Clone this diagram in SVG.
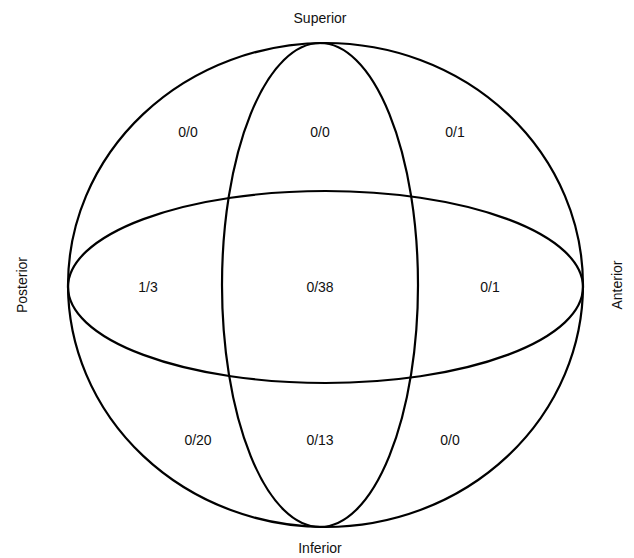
<svg xmlns="http://www.w3.org/2000/svg" width="634" height="558" viewBox="0 0 634 558">
<style>
.l{fill:none;stroke:#000;stroke-width:2.2}
text{font-family:"Liberation Sans",Arial,sans-serif;font-size:14px;fill:#111;text-anchor:middle;dominant-baseline:central}
</style>
<rect width="634" height="558" fill="#fff"/>
<g id="connectors">
<ellipse id="sphere" class="l" cx="325.5" cy="285" rx="257.5" ry="242"/>
<ellipse id="horizontal" class="l" cx="325.5" cy="287" rx="257.5" ry="96"/>
<ellipse id="vertical" class="l" cx="320" cy="285" rx="98" ry="242"/>
</g>
<g id="labels">
<text x="320" y="18">Superior</text>
<text x="320" y="548">Inferior</text>
<text transform="translate(22,285) rotate(-90)">Posterior</text>
<text transform="translate(617,285) rotate(-90)">Anterior</text>
</g>
<g id="cells">
<text x="188" y="132">0/0</text>
<text x="320" y="132">0/0</text>
<text x="455" y="132">0/1</text>
<text x="148" y="287">1/3</text>
<text x="320" y="287">0/38</text>
<text x="490" y="287">0/1</text>
<text x="198" y="440">0/20</text>
<text x="320" y="440">0/13</text>
<text x="450" y="440">0/0</text>
</g>
</svg>
